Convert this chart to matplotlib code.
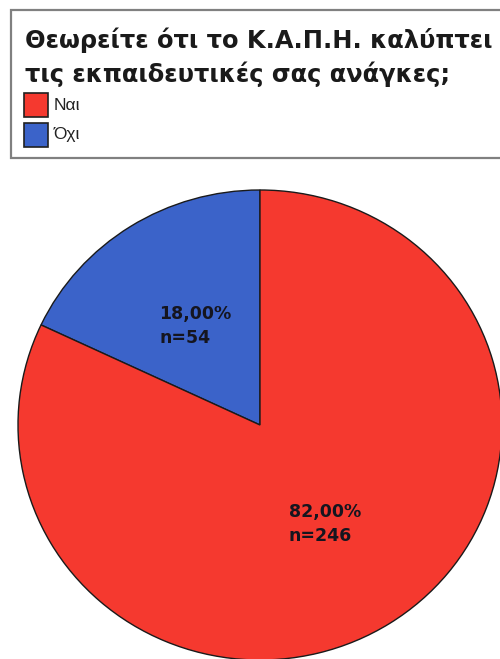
import matplotlib
matplotlib.use("Agg")
import matplotlib.pyplot as plt
from matplotlib.patches import Rectangle

# απαντήσεις ερωτηματολογίου
categories = ["Όχι", "Ναι"]
counts = [54, 246]
colors = ["#3B63C9", "#F5392F"]
legend_order = ["Ναι", "Όχι"]
title_lines = ["Θεωρείτε ότι το Κ.Α.Π.Η. καλύπτει", "τις εκπαιδευτικές σας ανάγκες;"]

W, H = 500, 659
total = sum(counts)


def fx(x):
    return x / W


def fy(y):
    return 1 - y / H


def fmt_label(pct):
    n = int(round(pct * total / 100))
    return f"{pct:.2f}".replace(".", ",") + f"%\nn={n}"


fig = plt.figure(figsize=(W / 100, H / 100), dpi=100)
fig.patch.set_facecolor("white")

# πλαίσιο υπομνήματος
fig.patches.append(Rectangle((fx(11), fy(158)), fx(510) - fx(11), fy(10) - fy(158),
                             transform=fig.transFigure, facecolor="white",
                             edgecolor="#808080", linewidth=1.6))

for i, line in enumerate(title_lines):
    fig.text(fx(25), fy(48 + i * 34), line, fontsize=17.4, fontweight="bold",
             family="DejaVu Sans", color="#1a1a1a", va="baseline", ha="left")

col_of = dict(zip(categories, colors))
for i, name in enumerate(legend_order):
    top = 93 + i * 30
    fig.patches.append(Rectangle((fx(24), fy(top + 24)), fx(24), 24 / H,
                                 transform=fig.transFigure,
                                 facecolor=col_of[name], edgecolor="#202020",
                                 linewidth=1.2))
    fig.text(fx(54), fy(top + 12), name, fontsize=12.5, family="Liberation Sans",
             color="#222222", va="center", ha="left")

# πίτα: κέντρο (260, 425), ελαφρώς ελλειπτική
rx, ry = 242, 235
ax = fig.add_axes([fx(260 - rx), fy(425 + ry), 2 * rx / W, 2 * ry / H])
wedges, texts, autotexts = ax.pie(
    counts, colors=colors, startangle=90, counterclock=True,
    autopct=fmt_label, pctdistance=0.5,
    wedgeprops=dict(edgecolor="#1a1a1a", linewidth=1.0),
    textprops=dict(fontsize=12.5, fontweight="bold", color="#15151f"),
)
for t in autotexts:
    t.set_multialignment("left")
    t.set_linespacing(1.45)
ax.set_aspect("auto")
ax.set_xlim(-1, 1)
ax.set_ylim(-1, 1)
ax.set_axis_off()

fig.savefig("out.png", dpi=100, facecolor="white")
